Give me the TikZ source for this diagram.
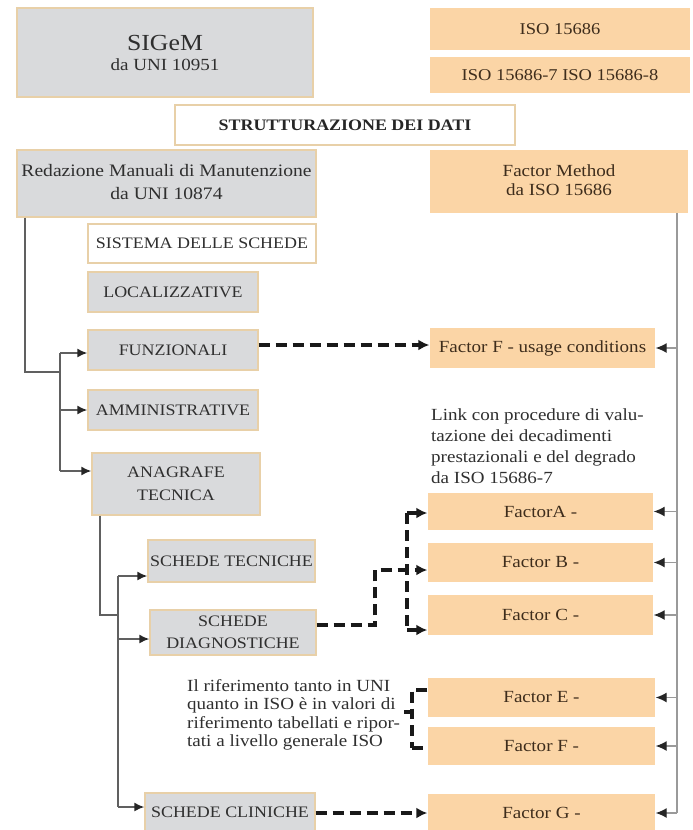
\documentclass[tikz,border=0pt]{standalone}
\usepackage{fontspec}
\setmainfont[FakeStretch=1.12]{Liberation Serif}
\usetikzlibrary{arrows.meta}
\definecolor{grayfill}{HTML}{D9DADC}
\definecolor{tanline}{HTML}{E8D0A8}
\definecolor{orangefill}{HTML}{FBD5A6}
\definecolor{graytext}{HTML}{2F2F2F}
\definecolor{browntext}{HTML}{3E2D1C}
\definecolor{treeline}{HTML}{606060}
\definecolor{rightline}{HTML}{9A9A9A}
\newcommand{\capsize}{\fontsize{16}{19}\selectfont}
\newcommand{\txtsize}{\fontsize{17}{20}\selectfont}
\begin{document}
\begin{tikzpicture}[x=1pt,y=-1pt,
  boxbase/.style={rectangle,inner sep=0pt,align=center,line width=1.4pt},
  graybox/.style={boxbase,fill=grayfill,draw=tanline,text=graytext,font=\capsize},
  orangebox/.style={boxbase,fill=orangefill,text=browntext,font=\txtsize},
  whitebox/.style={boxbase,fill=white,draw=tanline,text=graytext,font=\capsize},
  conn/.style={draw=treeline,line width=1.6pt},
  connarrow/.style={conn,-{Latex[length=10pt,width=9pt,color=black!85]}},
  rconn/.style={draw=rightline,line width=1.3pt},
  rconnarrow/.style={rconn,-{Latex[length=11pt,width=10pt,color=black!85]}},
  dconn/.style={draw=black!90,line width=3.4pt,dash pattern=on 11pt off 6pt},
  dconnarrow/.style={dconn,-{Latex[length=11pt,width=11pt]}},
  note/.style={inner sep=0pt,align=left,text=graytext,anchor=north west}
]
\clip (0,0) rectangle (693,830);
\fill[white] (0,0) rectangle (693,830);

% ---- top boxes ----
\node[graybox,minimum width=296pt,minimum height=89pt] (sigem) at (165,52.5)
  {{\fontsize{23}{26}\selectfont SIGeM}\\[1pt]{\fontsize{17}{20}\selectfont da UNI 10951}};
\node[orangebox,minimum width=260pt,minimum height=42pt,font=\fontsize{16.5}{19}\selectfont] (iso1) at (560,29) {ISO 15686};
\node[orangebox,minimum width=260pt,minimum height=36pt,font=\fontsize{16.5}{19}\selectfont] (iso2) at (560,75) {ISO 15686-7 ISO 15686-8};
\node[whitebox,minimum width=340pt,minimum height=40pt,font=\fontsize{16}{19}\selectfont\bfseries,text=black!85] (strutt) at (345,125) {STRUTTURAZIONE DEI DATI};
\node[graybox,minimum width=299pt,minimum height=67pt,font=\fontsize{17.5}{24}\selectfont] (redaz) at (166.5,183.5)
  {\raisebox{7pt}{\begin{tabular}{@{}c@{}}Redazione Manuali di Manutenzione\\[-1pt] da UNI 10874\end{tabular}}};
\node[orangebox,minimum width=258pt,minimum height=63pt] (fmethod) at (559,181.5)
  {\raisebox{6pt}{\begin{tabular}{@{}c@{}}Factor Method\\[-1pt] da ISO 15686\end{tabular}}};

% ---- left column ----
\node[whitebox,minimum width=228pt,minimum height=39pt] (sistema) at (202,243.5) {SISTEMA DELLE SCHEDE};
\node[graybox,minimum width=170pt,minimum height=40pt] (local) at (173,292) {LOCALIZZATIVE};
\node[graybox,minimum width=170pt,minimum height=40pt] (funz) at (173,350) {FUNZIONALI};
\node[graybox,minimum width=170pt,minimum height=40pt] (ammin) at (173,410) {AMMINISTRATIVE};
\node[graybox,minimum width=168pt,minimum height=62pt,font=\fontsize{16}{23}\selectfont] (anagr) at (176,484) {ANAGRAFE\\TECNICA};
\node[graybox,minimum width=167pt,minimum height=42pt] (stecn) at (231.5,561) {SCHEDE TECNICHE};
\node[graybox,minimum width=166pt,minimum height=45pt,font=\fontsize{16}{22}\selectfont] (sdiag) at (233,632.5) {SCHEDE\\DIAGNOSTICHE};
\node[graybox,minimum width=170pt,minimum height=38pt] (sclin) at (230,812) {SCHEDE CLINICHE};

% ---- right column ----
\node[orangebox,minimum width=225pt,minimum height=40pt] (ffu) at (542.5,348) {Factor F - usage conditions};
\node[note,font=\fontsize{17}{21}\selectfont] (linktxt) at (431,408)
  {Link con procedure di valu-\\tazione dei decadimenti\\prestazionali e del degrado\\da ISO 15686-7};
\node[orangebox,minimum width=225pt,minimum height=37pt] (fA) at (540.5,511.5) {FactorA -};
\node[orangebox,minimum width=225pt,minimum height=39pt] (fB) at (540.5,562.5) {Factor B -};
\node[orangebox,minimum width=225pt,minimum height=40pt] (fC) at (540.5,615) {Factor C -};
\node[orangebox,minimum width=227pt,minimum height=39pt] (fE) at (541.5,697.5) {Factor E -};
\node[orangebox,minimum width=227pt,minimum height=38pt] (fF) at (541.5,746) {Factor F -};
\node[orangebox,minimum width=227pt,minimum height=38pt] (fG) at (541.5,813) {Factor G -};
\node[note,font=\fontsize{17}{18.6}\selectfont] (rifertxt) at (187,679)
  {Il riferimento tanto in UNI\\quanto in ISO è in valori di\\riferimento tabellati e ripor-\\tati a livello generale ISO};

% ---- left tree 1 ----
\coordinate (t1corner) at (25,372);
\coordinate (t1join) at (60,372);
\coordinate (t1top) at (60,353);
\coordinate (t1mid) at (60,410);
\coordinate (t1bot) at (60,471);
\draw[conn] (t1corner |- redaz.south) -- (t1corner) -- (t1join);
\draw[conn] (t1top) -- (t1bot);
\draw[connarrow] (t1top) -- (funz.west |- t1top);
\draw[connarrow] (t1mid) -- (ammin.west |- t1mid);
\draw[connarrow] (t1bot) -- (anagr.west |- t1bot);

% ---- left tree 2 ----
\coordinate (t2corner) at (100,615);
\coordinate (t2join) at (118,615);
\coordinate (t2top) at (118,576);
\coordinate (t2mid) at (118,639);
\coordinate (t2bot) at (118,807);
\draw[conn] (t2corner |- anagr.south) -- (t2corner) -- (t2join);
\draw[conn] (t2top) -- (t2bot);
\draw[connarrow] (t2top) -- (stecn.west |- t2top);
\draw[connarrow] (t2mid) -- (sdiag.west |- t2mid);
\draw[connarrow] (t2bot) -- (sclin.west |- t2bot);

% ---- right vertical line ----
\coordinate (rtop) at (677,213);
\coordinate (rbot) at (677,813);
\draw[rconn] (rtop) -- (rbot);
\foreach \b in {ffu,fA,fB,fC,fE,fF,fG}{
  \draw[rconnarrow] (rtop |- \b.east) -- (\b.east);
}

% ---- dashed connectors ----
\coordinate (dfz) at (258,345);
\draw[dconnarrow] (funz.east |- dfz) -- (ffu.west |- dfz);

\coordinate (dd1) at (375,625);
\coordinate (dd2) at (375,570);
\draw[dconnarrow] (sdiag.east |- dd1) -- (dd1) -- (dd2) -- (fB.west |- dd2);
\coordinate (va) at (407,513);
\coordinate (vc) at (407,630);
\draw[dconn] (va) -- (vc);
\draw[dconnarrow] (va) -- (fA.west |- va);
\draw[dconnarrow] (vc) -- (fC.west |- vc);

\coordinate (be) at (412,690);
\coordinate (bm) at (412,712);
\coordinate (bs) at (399,712);
\coordinate (bf) at (412,748);
\draw[dconn] (fE.west |- be) -- (be) -- (bm) -- (bs);
\draw[dconn] (bf) -- (fF.west |- bf);
\draw[dconn,dash phase=4pt] (bm) -- (bf);

\coordinate (dcl) at (316,813);
\draw[dconnarrow] (sclin.east |- dcl) -- (fG.west |- dcl);
\end{tikzpicture}
\end{document}
